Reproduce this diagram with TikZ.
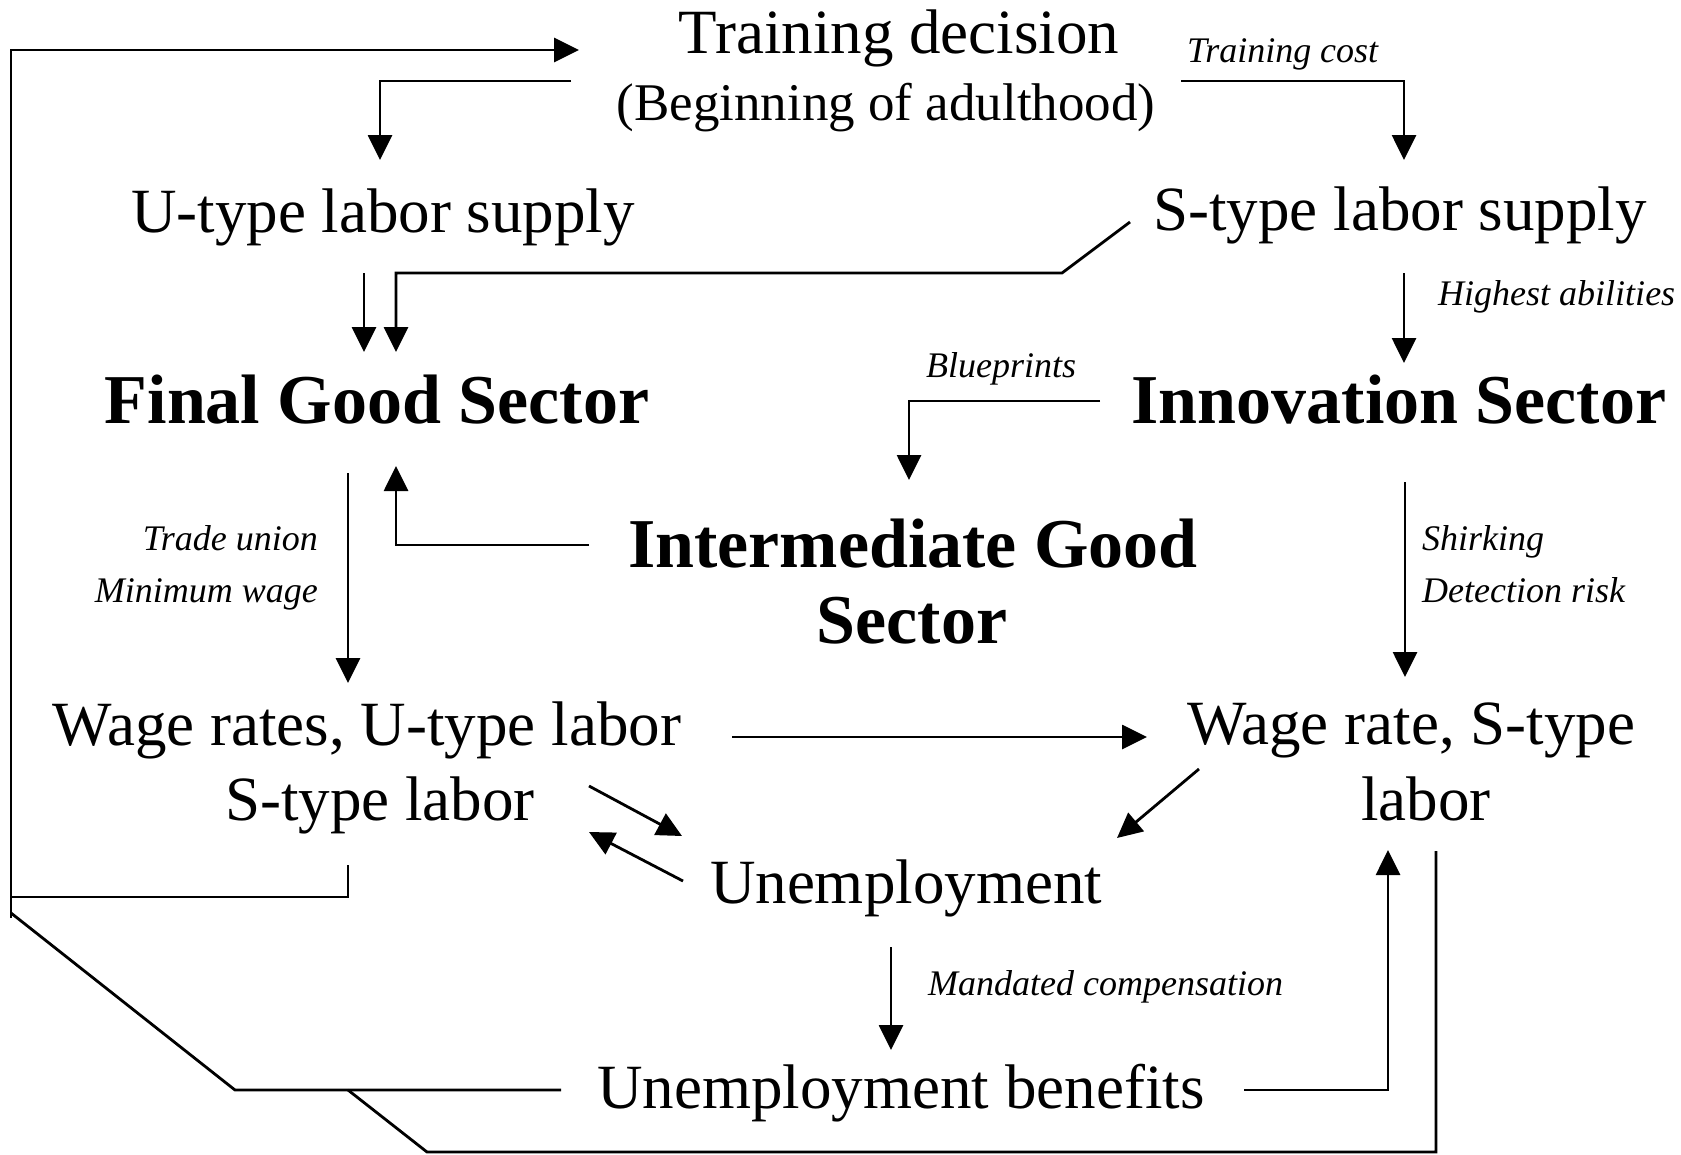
\documentclass[tikz,border=0pt]{standalone}
\usepackage{fontspec}
\setmainfont{Liberation Serif}
\usetikzlibrary{arrows.meta}
\tikzset{
  maintext/.style={font=\fontsize{63}{63}\selectfont, anchor=base, inner sep=0pt},
  subtext/.style={font=\fontsize{53}{53}\selectfont, anchor=base, inner sep=0pt},
  boldtext/.style={font=\fontsize{70}{70}\selectfont\bfseries, anchor=base, inner sep=0pt},
  labtext/.style={font=\fontsize{36}{36}\selectfont\itshape, inner sep=0pt},
  conn/.style={line width=2.8pt},
  arr/.style={conn, -{Triangle[length=25pt,width=24pt]}}
}
\begin{document}
\begin{tikzpicture}[x=1pt,y=-1pt]
\useasboundingbox[fill=white] (0,0) rectangle (1681,1154);

% main nodes
\node[maintext] (train) at (899,53) {Training decision};
\node[subtext] (trainb) at (886,120) {(Beginning of adulthood)};
\node[maintext] (usup) at (383,232) {U-type labor supply};
\node[maintext] (ssup) at (1400,230) {S-type labor supply};
\node[boldtext] (final) at (377,423) {Final Good Sector};
\node[boldtext] (innov) at (1399,423) {Innovation Sector};
\node[boldtext] (inter) at (913,567) {Intermediate Good};
\node[boldtext] (interb) at (912,643) {Sector};
\node[maintext] (wageu) at (367,745) {Wage rates, U-type labor};
\node[maintext] (wageub) at (380,820) {S-type labor};
\node[maintext] (wages) at (1411,744) {Wage rate, S-type};
\node[maintext] (wagesb) at (1426,820) {labor};
\node[maintext] (unemp) at (906,903) {Unemployment};
\node[maintext] (ben) at (901,1108) {Unemployment benefits};

% labels
\node[labtext, anchor=base west] (lcost) at (1187,62) {Training cost};
\node[labtext, anchor=base west] (labil) at (1438,305) {Highest abilities};
\node[labtext, anchor=base] (lblue) at (1001,377) {Blueprints};
\node[labtext, anchor=base east] (ltrade) at (318,550) {Trade union};
\node[labtext, anchor=base east] (lmin) at (318,602) {Minimum wage};
\node[labtext, anchor=base west] (lshirk) at (1422,550) {Shirking};
\node[labtext, anchor=base west] (ldetect) at (1422,602) {Detection risk};
\node[labtext, anchor=base west] (lmand) at (928,995) {Mandated compensation};

% connector end points
\coordinate (tu0) at (571,81);  \coordinate (tu1) at (380,81);  \coordinate (tu2) at (380,160);
\coordinate (ts0) at (1181,81); \coordinate (ts1) at (1404,81); \coordinate (ts2) at (1404,160);
\coordinate (uf0) at (364,273); \coordinate (uf1) at (364,352);
\coordinate (sf0) at (1130,222); \coordinate (sf1) at (1062,273); \coordinate (sf2) at (396,273); \coordinate (sf3) at (396,352);
\coordinate (si0) at (1404,273); \coordinate (si1) at (1404,363);
\coordinate (ii0) at (1100,401); \coordinate (ii1) at (909,401); \coordinate (ii2) at (909,480);
\coordinate (if0) at (589,545); \coordinate (if1) at (396,545); \coordinate (if2) at (396,466);
\coordinate (fw0) at (348,473); \coordinate (fw1) at (348,683);
\coordinate (iw0) at (1405,482); \coordinate (iw1) at (1405,677);
\coordinate (ww0) at (732,737); \coordinate (ww1) at (1147,737);
\coordinate (wu0) at (1199,769); \coordinate (wu1) at (1117,838);
\coordinate (su0) at (589,786); \coordinate (su1) at (682,836);
\coordinate (us0) at (683,881); \coordinate (us1) at (589,832);
\coordinate (ub0) at (891,947); \coordinate (ub1) at (891,1050);
\coordinate (bw0) at (1244,1090); \coordinate (bw1) at (1388,1090); \coordinate (bw2) at (1388,850);
\coordinate (lp0) at (348,865); \coordinate (lp1) at (348,897); \coordinate (lp2) at (11,897);
\coordinate (lv0) at (11,918); \coordinate (lv1) at (11,50); \coordinate (lv2) at (579,50);
\coordinate (bl0) at (561,1090); \coordinate (bl1) at (235,1090); \coordinate (bl2) at (11,913);
\coordinate (rl0) at (1436,851); \coordinate (rl1) at (1436,1152); \coordinate (rl2) at (427,1152); \coordinate (rl3) at (348,1090);

% connectors
\draw[arr] (tu0) -- (tu1) -- (tu2);
\draw[arr] (ts0) -- (ts1) -- (ts2);
\draw[arr] (uf0) -- (uf1);
\draw[arr] (sf0) -- (sf1) -- (sf2) -- (sf3);
\draw[arr] (si0) -- (si1);
\draw[arr] (ii0) -- (ii1) -- (ii2);
\draw[arr] (if0) -- (if1) -- (if2);
\draw[arr] (fw0) -- (fw1);
\draw[arr] (iw0) -- (iw1);
\draw[arr] (ww0) -- (ww1);
\draw[arr] (wu0) -- (wu1);
\draw[arr] (su0) -- (su1);
\draw[arr] (us0) -- (us1);
\draw[arr] (ub0) -- (ub1);
\draw[arr] (bw0) -- (bw1) -- (bw2);
\draw[conn] (lp0) -- (lp1) -- (lp2);
\draw[arr] (lv0) -- (lv1) -- (lv2);
\draw[conn] (bl0) -- (bl1) -- (bl2);
\draw[conn] (rl0) -- (rl1) -- (rl2) -- (rl3);
\end{tikzpicture}
\end{document}
